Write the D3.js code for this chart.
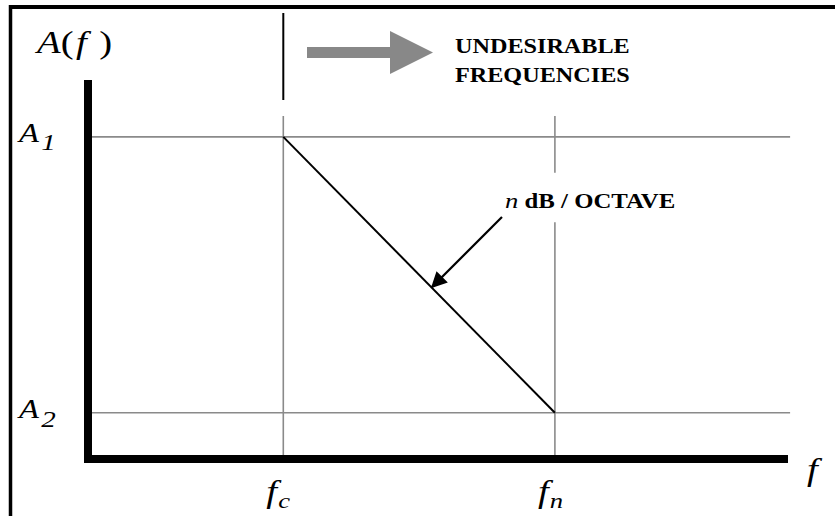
<!DOCTYPE html>
<html>
<head>
<meta charset="utf-8">
<script src="https://cdn.jsdelivr.net/npm/d3@7"></script>
<style>
  html, body { margin: 0; padding: 0; background: #fff; }
  svg { display: block; }
</style>
</head>
<body>
<div id="chart"></div>
<script>
// Low-pass roll-off sketch: flat at A1 up to fc, then falls n dB/octave to A2 at fn
const freqMarks = [
  { name: 'f', sub: 'c', value: 0.279 },
  { name: 'f', sub: 'n', value: 0.667 }
];
const ampMarks = [
  { name: 'A', sub: '1', value: 0.85 },
  { name: 'A', sub: '2', value: 0.122 }
];
const rolloff = [
  { f: 0.279, a: 0.85 },
  { f: 0.667, a: 0.122 }
];
const bandText = ['UNDESIRABLE', 'FREQUENCIES'];
const slopeText = { italic: 'n', bold: ' dB / OCTAVE' };

const FONT = 'Liberation Serif';
const STRETCH = 1.21; // the scanned figure is wider than tall
const width = 835, height = 516;
const svg = d3.select('#chart').append('svg')
  .attr('width', width)
  .attr('height', height);

const x = d3.scaleLinear().domain([0, 1]).range([88, 788]);
const y = d3.scaleLinear().domain([0, 1]).range([459, 80]);

const gridColor = '#8a8a8a';

// text placed at (px,py) and stretched sideways like the scan
function label(px, py, size, sx) {
  return svg.append('text')
    .attr('font-family', FONT)
    .attr('font-size', size)
    .attr('transform', `translate(${px},${py}) scale(${sx || STRETCH},1)`);
}

// outer frame (top and left only, as in the scan)
svg.append('line').attr('x1', 9).attr('x2', width).attr('y1', 7).attr('y2', 7)
  .attr('stroke', '#000').attr('stroke-width', 4);
svg.append('line').attr('x1', 10.5).attr('x2', 10.5).attr('y1', 5).attr('y2', height)
  .attr('stroke', '#000').attr('stroke-width', 3.5);

// horizontal guide lines at A1 / A2
svg.selectAll('.hgrid').data(ampMarks).join('line')
  .attr('class', 'hgrid')
  .attr('x1', x(0)).attr('x2', x(1.003))
  .attr('y1', d => y(d.value)).attr('y2', d => y(d.value))
  .attr('stroke', gridColor).attr('stroke-width', 1.6);

// vertical guide lines at fc / fn
const topGuide = y(0.905);
svg.append('line')
  .attr('x1', x(freqMarks[0].value)).attr('x2', x(freqMarks[0].value))
  .attr('y1', topGuide).attr('y2', y(0))
  .attr('stroke', gridColor).attr('stroke-width', 1.6);
// fn line is broken where the slope label sits
[[topGuide, y(0.755)], [y(0.625), y(0)]].forEach(([y1, y2]) => {
  svg.append('line')
    .attr('x1', x(freqMarks[1].value)).attr('x2', x(freqMarks[1].value))
    .attr('y1', y1).attr('y2', y2)
    .attr('stroke', gridColor).attr('stroke-width', 1.6);
});

// roll-off line
svg.append('path')
  .datum(rolloff)
  .attr('d', d3.line().x(d => x(d.f)).y(d => y(d.a)))
  .attr('fill', 'none').attr('stroke', '#000').attr('stroke-width', 2);

// heavy axes
svg.append('line').attr('x1', x(0)).attr('x2', x(0)).attr('y1', y(1)).attr('y2', y(0) + 4)
  .attr('stroke', '#000').attr('stroke-width', 8);
svg.append('line').attr('x1', x(0) - 4).attr('x2', x(1)).attr('y1', y(0)).attr('y2', y(0))
  .attr('stroke', '#000').attr('stroke-width', 8);

// cutoff marker above the plot
svg.append('line')
  .attr('x1', x(freqMarks[0].value)).attr('x2', x(freqMarks[0].value))
  .attr('y1', 13).attr('y2', 100)
  .attr('stroke', '#000').attr('stroke-width', 2);

// grey block arrow pointing to higher frequencies
svg.append('path')
  .attr('d', 'M307,47 L390,47 L390,31 L433,52.5 L390,74 L390,58 L307,58 Z')
  .attr('fill', '#888');

bandText.forEach((t, i) => {
  label(455, 53 + i * 29, 20).attr('font-weight', 'bold').text(t);
});

// slope label + pointer
const sl = label(505, 208, 22);
sl.append('tspan').attr('font-style', 'italic').text(slopeText.italic);
sl.append('tspan').attr('font-weight', 'bold').attr('font-size', 20.5).text(slopeText.bold);

svg.append('defs').append('marker')
  .attr('id', 'head').attr('viewBox', '0 0 10 10')
  .attr('refX', 9).attr('refY', 5)
  .attr('markerUnits', 'userSpaceOnUse')
  .attr('orient', 'auto')
  .attr('markerWidth', 22).attr('markerHeight', 16)
  .append('path').attr('d', 'M0,0 L10,5 L0,10 Z').attr('fill', '#000');
svg.append('line')
  .attr('x1', 502).attr('y1', 217).attr('x2', 432).attr('y2', 287)
  .attr('stroke', '#000').attr('stroke-width', 2.2)
  .attr('marker-end', 'url(#head)');

// axis titles
const yt = label(37, 53, 32);
yt.append('tspan').attr('font-style', 'italic').text('A');
yt.append('tspan').text('(');
yt.append('tspan').attr('font-style', 'italic').attr('dx', 2).text('f');
yt.append('tspan').attr('dx', 4).text('\u2009)');

label(807, 480, 32).attr('font-style', 'italic').text('f');

// amplitude labels
ampMarks.forEach((d, i) => {
  const t = label(19, y(d.value) + 5, 27).attr('font-style', 'italic');
  t.append('tspan').text(d.name);
  t.append('tspan').attr('font-size', 24).attr('dy', 8 + i).attr('dx', 2).text(d.sub);
});

// frequency labels
freqMarks.forEach(d => {
  const t = label(x(d.value) - 17, 502, 32).attr('font-style', 'italic');
  t.append('tspan').text(d.name);
  t.append('tspan').attr('font-size', 22).attr('dy', 6).attr('dx', 1).text(d.sub);
});
</script>
</body>
</html>
